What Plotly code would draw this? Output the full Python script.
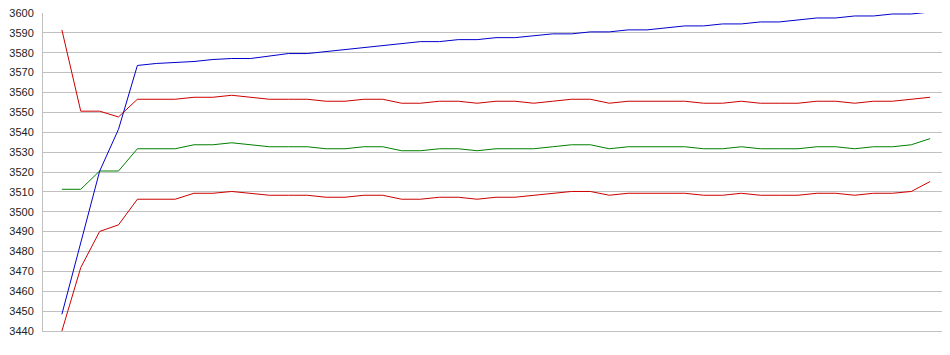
import plotly.graph_objects as go

# sample index (category positions 1..47)
samples = list(range(1, 48))

blue_vals = [3448.4, 3485.0, 3520.4, 3541.5, 3573.6, 3574.6, 3575.1, 3575.6, 3576.6, 3577.1,
             3577.1, 3578.5, 3579.6, 3579.6, 3580.6, 3581.6, 3582.6, 3583.6, 3584.6, 3585.6,
             3585.6, 3586.6, 3586.6, 3587.6, 3587.6, 3588.5, 3589.5, 3589.5, 3590.5, 3590.5,
             3591.5, 3591.5, 3592.5, 3593.5, 3593.5, 3594.5, 3594.5, 3595.5, 3595.5, 3596.5,
             3597.5, 3597.5, 3598.5, 3598.5, 3599.5, 3599.5, 3600.5]

upper_vals = [3591.5, 3550.6, 3550.6, 3547.7, 3556.6, 3556.6, 3556.6, 3557.6, 3557.6, 3558.6,
              3557.6, 3556.6, 3556.6, 3556.6, 3555.6, 3555.6, 3556.6, 3556.6, 3554.6, 3554.6,
              3555.6, 3555.6, 3554.6, 3555.6, 3555.6, 3554.6, 3555.6, 3556.6, 3556.6, 3554.6,
              3555.6, 3555.6, 3555.6, 3555.6, 3554.6, 3554.6, 3555.6, 3554.6, 3554.6, 3554.6,
              3555.6, 3555.6, 3554.6, 3555.6, 3555.6, 3556.6, 3557.6]

middle_vals = [3511.3, 3511.3, 3520.5, 3520.5, 3531.7, 3531.7, 3531.7, 3533.7, 3533.7, 3534.7,
               3533.7, 3532.7, 3532.7, 3532.7, 3531.7, 3531.7, 3532.7, 3532.7, 3530.7, 3530.7,
               3531.7, 3531.7, 3530.7, 3531.7, 3531.7, 3531.7, 3532.7, 3533.7, 3533.7, 3531.7,
               3532.7, 3532.7, 3532.7, 3532.7, 3531.7, 3531.7, 3532.7, 3531.7, 3531.7, 3531.7,
               3532.7, 3532.7, 3531.7, 3532.7, 3532.7, 3533.7, 3536.8]

lower_vals = [3440.0, 3471.9, 3490.1, 3493.4, 3506.3, 3506.3, 3506.3, 3509.3, 3509.3, 3510.2,
              3509.3, 3508.3, 3508.3, 3508.3, 3507.3, 3507.3, 3508.3, 3508.3, 3506.3, 3506.3,
              3507.3, 3507.3, 3506.3, 3507.3, 3507.3, 3508.3, 3509.3, 3510.2, 3510.2, 3508.3,
              3509.3, 3509.3, 3509.3, 3509.3, 3508.3, 3508.3, 3509.3, 3508.3, 3508.3, 3508.3,
              3509.3, 3509.3, 3508.3, 3509.3, 3509.3, 3510.2, 3515.2]

y_ticks = list(range(3440, 3601, 10))

series = [
    (upper_vals, "#CC0000"),
    (lower_vals, "#CC0000"),
    (middle_vals, "#008000"),
    (blue_vals, "#0000CC"),
]

fig = go.Figure()
for vals, col in series:
    fig.add_trace(go.Scatter(x=samples, y=vals, mode="lines",
                             line=dict(color=col, width=1),
                             cliponaxis=False, showlegend=False,
                             hoverinfo="skip"))

# page body has an 8px default margin, so the figure is sized/offset to compensate
fig.update_layout(
    width=942, height=347,
    margin=dict(l=35, r=1, t=5, b=24),
    paper_bgcolor="white", plot_bgcolor="white",
    font=dict(family="Liberation Sans, Arial, sans-serif", size=11, color="#222222"),
    showlegend=False,
)
fig.update_xaxes(range=[0, 48], showticklabels=False, showgrid=False, zeroline=False,
                 showline=True, linecolor="#C0C0C0", linewidth=1, ticks="")
fig.update_yaxes(range=[3440, 3600], tickvals=y_ticks, ticktext=[str(v) for v in y_ticks],
                 showgrid=True, gridcolor="#C0C0C0", gridwidth=1, zeroline=False,
                 showline=True, linecolor="#C0C0C0", linewidth=1, ticks="",
                 ticklabelstandoff=6, ticklabeloverflow="allow", automargin=False)

fig.write_html("out.html")
